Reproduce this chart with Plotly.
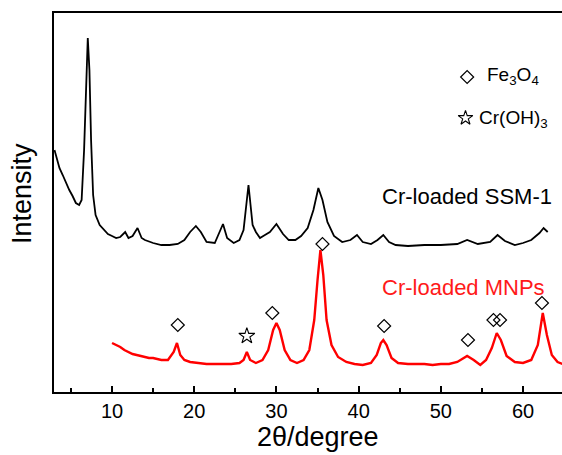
import plotly.graph_objects as go

# Cr-loaded SSM-1 diffraction pattern (2theta, intensity a.u.)
ssm_2theta = [3.0, 3.3, 3.6, 4.0, 4.4, 4.8, 5.2, 5.6, 6.0, 6.3, 6.6, 6.85, 7.05, 7.25, 7.45,
              7.7, 8.0, 8.5, 9.0, 9.5, 10.0, 10.5, 11.0, 11.6, 12.0, 12.5, 13.1, 13.6, 14.0,
              15.0, 16.0, 17.0, 18.0, 18.8, 19.5, 20.2, 20.8, 21.5, 22.5, 23.5, 24.0, 24.8,
              25.5, 26.0, 26.6, 27.1, 27.5, 28.0, 28.6, 29.2, 30.0, 30.8, 31.5, 32.3, 33.0,
              33.8, 34.5, 35.1, 35.6, 36.2, 37.0, 38.0, 39.0, 39.8, 40.5, 41.5, 42.3, 43.0,
              43.7, 44.5, 46.0, 48.0, 50.0, 52.0, 53.2, 54.5, 56.0, 56.9, 57.8, 59.0, 60.0,
              61.0, 62.0, 62.5, 63.0]
ssm_intensity = [242, 232, 224, 217, 209, 202, 196, 189, 187, 192, 242, 312, 354, 322, 252,
                 197, 177, 167, 162, 158, 156, 154, 155, 160, 154, 156, 164, 154, 152,
                 149, 147, 147, 148, 152, 160, 166, 160, 150, 149, 168, 154, 149,
                 152, 162, 207, 167, 160, 154, 157, 160, 168, 158, 152, 152, 156,
                 164, 182, 204, 192, 170, 156, 150, 152, 157, 150, 148, 152, 157,
                 150, 147, 146, 147, 147, 148, 152, 148, 150, 157, 151, 147, 149,
                 152, 159, 164, 160]

# Cr-loaded MNPs diffraction pattern
mnp_2theta = [10.0, 10.5, 11.0, 11.5, 12.0, 12.5, 13.0, 13.5, 14.0, 14.5, 15.0, 15.5, 16.0,
              16.8, 17.5, 17.9, 18.3, 18.8, 19.5, 20.5, 21.5, 22.5, 23.5, 24.5, 25.5, 26.0,
              26.4, 26.8, 27.5, 28.3, 29.0, 29.6, 30.0, 30.4, 31.0, 31.7, 32.5, 33.3, 34.0,
              34.6, 35.0, 35.35, 35.7, 36.1, 36.7, 37.5, 38.5, 39.5, 40.5, 41.5, 42.2, 42.7,
              43.0, 43.4, 44.0, 44.8, 46.0, 47.0, 48.0, 49.0, 50.0, 51.0, 52.0, 53.2, 54.0,
              54.8, 55.5, 56.2, 56.8, 57.3, 58.0, 59.0, 60.0, 61.0, 61.8, 62.4, 62.9, 63.5,
              64.2, 64.8]
mnp_intensity = [49, 47, 45, 42, 40, 38, 37, 36, 35, 34, 34, 33, 32,
                 32, 40, 49, 37, 32, 30, 29, 28, 28, 28, 28, 29, 32,
                 40, 32, 29, 32, 42, 62, 69, 62, 42, 32, 29, 32, 42,
                 72, 112, 142, 117, 72, 47, 35, 30, 28, 27, 29, 37, 49,
                 52, 47, 34, 29, 28, 28, 28, 27, 28, 28, 30, 36, 32,
                 27, 32, 44, 59, 52, 36, 30, 29, 32, 47, 79, 57, 37,
                 30, 28]

# Phase markers
fe3o4_2theta = [18.0, 29.5, 35.6, 43.1, 53.3, 56.4, 57.2, 62.3]
fe3o4_mark_y = [67, 79, 148, 66, 52, 72, 72, 89]
croh3_2theta = [26.4]
croh3_mark_y = [56]

x_ticks = [10, 20, 30, 40, 50, 60]
x_minor = [5, 15, 25, 35, 45, 55]

FONT = "Arial, Liberation Sans, sans-serif"
L, T, W, H = 54, 13, 508, 379  # plot area in pixels

fig = go.Figure()
fig.add_trace(go.Scatter(x=ssm_2theta, y=ssm_intensity, mode="lines",
                         line=dict(color="black", width=1.8), showlegend=False))
fig.add_trace(go.Scatter(x=mnp_2theta, y=mnp_intensity, mode="lines",
                         line=dict(color="#ff0000", width=2.4), showlegend=False))
fig.add_trace(go.Scatter(x=fe3o4_2theta, y=fe3o4_mark_y, mode="markers",
                         marker=dict(symbol="diamond-open", size=10, color="black",
                                     line=dict(width=1.2)), showlegend=False))
fig.add_trace(go.Scatter(x=croh3_2theta, y=croh3_mark_y, mode="markers",
                         marker=dict(symbol="star-open", size=12, color="black",
                                     line=dict(width=1.1)), showlegend=False))
# key symbols
fig.add_trace(go.Scatter(x=[53.2], y=[315], mode="markers",
                         marker=dict(symbol="diamond-open", size=10, color="black",
                                     line=dict(width=1.2)), showlegend=False))
fig.add_trace(go.Scatter(x=[53.0], y=[274], mode="markers",
                         marker=dict(symbol="star-open", size=11, color="black",
                                     line=dict(width=1.1)), showlegend=False))


def ann(text, px, py, size, color="black", anchor="left", angle=0):
    fig.add_annotation(x=(px - L) / W, y=(T + H - py) / H, xref="paper", yref="paper",
                       text=text, showarrow=False, xanchor=anchor, yanchor="middle",
                       textangle=angle, font=dict(family=FONT, size=size, color=color))


ann("Fe<sub>3</sub>O<sub>4</sub>", 485, 76, 19)
ann("Cr(OH)<sub>3</sub>", 477, 119, 19)
ann("Cr-loaded SSM-1", 380, 196, 22)
ann("Cr-loaded MNPs", 380, 287, 22, color="#ff1a1a")
ann("2θ/degree", 318, 437, 27, anchor="center")
ann("Intensity", 22, 194, 27, anchor="center", angle=-90)

fig.update_layout(
    width=562, height=455,
    margin=dict(l=L, r=562 - L - W, t=T, b=455 - T - H),
    plot_bgcolor="white", paper_bgcolor="white",
    font=dict(family=FONT, color="black"),
    xaxis=dict(range=[2.94, 64.74], tickvals=x_ticks, ticks="inside", ticklen=6,
               tickwidth=1.5, tickcolor="black", showline=True, linecolor="black",
               linewidth=2, mirror=True, showgrid=False, zeroline=False,
               tickfont=dict(size=20, family=FONT),
               minor=dict(tickvals=x_minor, ticks="inside", ticklen=4,
                          tickwidth=1.5, tickcolor="black")),
    yaxis=dict(range=[0, H], showticklabels=False, ticks="", showline=True,
               linecolor="black", linewidth=2, showgrid=False, zeroline=False),
)

fig.write_html("out.html")
